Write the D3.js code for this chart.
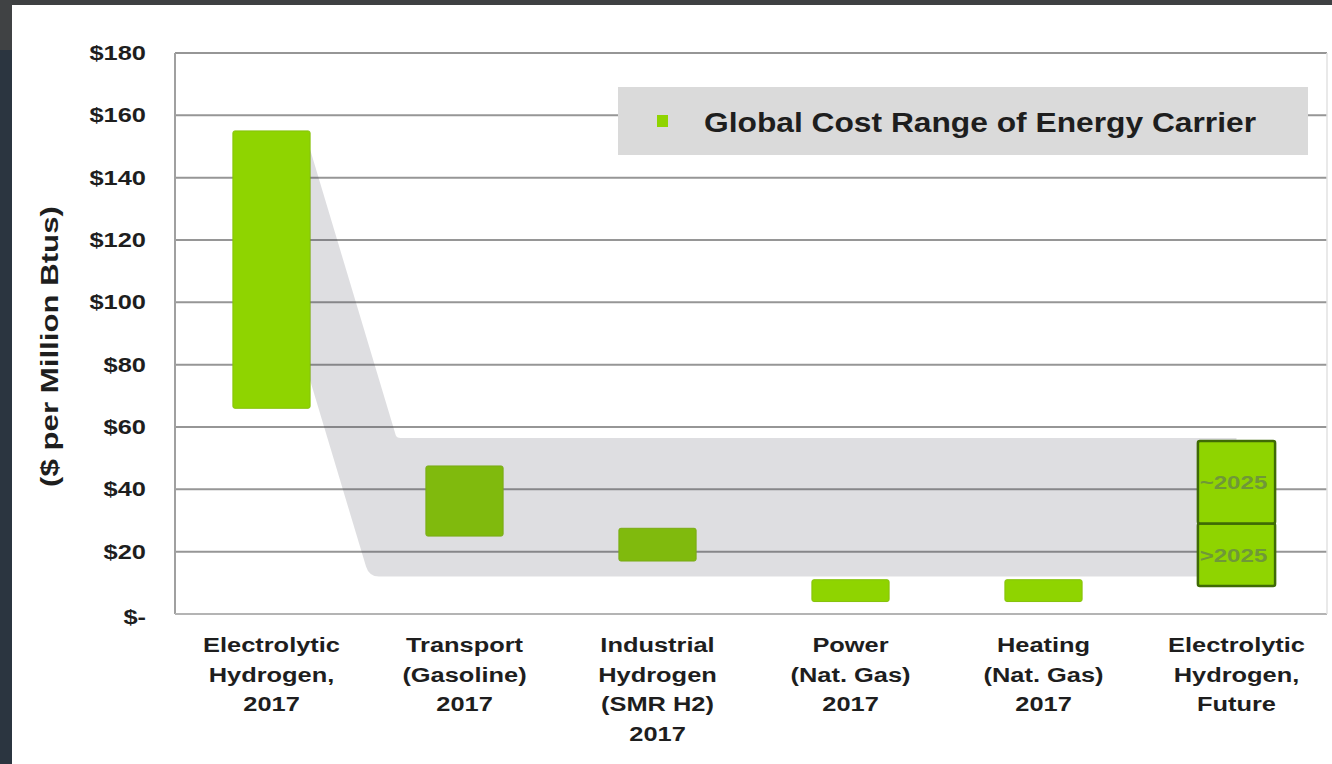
<!DOCTYPE html>
<html>
<head>
<meta charset="utf-8">
<script src="https://cdn.jsdelivr.net/npm/d3@7"></script>
<style>
  html, body { margin: 0; padding: 0; background: #ffffff; }
  svg { display: block; }
  text { font-family: "Liberation Sans", Arial, sans-serif; font-weight: bold; fill: #1e1e1e; }
</style>
</head>
<body>
<svg id="chart" width="1332" height="764"></svg>
<script>
// ---------------- data ----------------
const categories = ["eh2017", "transport", "industrial", "power", "heating", "ehFuture"];
const categoryLabels = [
  ["Electrolytic", "Hydrogen,", "2017"],
  ["Transport", "(Gasoline)", "2017"],
  ["Industrial", "Hydrogen", "(SMR H2)", "2017"],
  ["Power", "(Nat. Gas)", "2017"],
  ["Heating", "(Nat. Gas)", "2017"],
  ["Electrolytic", "Hydrogen,", "Future"]
];
const lowValues  = [66, 25, 17, 4, 4, 9];
const highValues = [155, 47.5, 27.5, 11, 11, 55.5];
// future bar split (>2025 below, ~2025 above)
const futureSplit = 29;
const futureSegmentLabels = [">2025", "~2025"];
// highlighted gray band: [start top, start bottom] at first bar, [top, bottom] of the flat part
const bandStart = [149, 75];
const bandFlat  = [56.5, 12];
const yTicks = [0, 20, 40, 60, 80, 100, 120, 140, 160, 180];
const yTickLabels = ["$-", "$20", "$40", "$60", "$80", "$100", "$120", "$140", "$160", "$180"];
const yTitle = "($ per Million Btus)";
const legendLabel = "Global Cost Range of Energy Carrier";

// ---------------- drawing ----------------
const svg = d3.select("#chart");
const SX = 1.27; // horizontal stretch of the text in the picture

// screenshot frame
svg.append("rect").attr("x", 0).attr("y", 0).attr("width", 1332).attr("height", 5).attr("fill", "#3e4042");
svg.append("rect").attr("x", 0).attr("y", 0).attr("width", 12).attr("height", 50).attr("fill", "#404244");
svg.append("rect").attr("x", 0).attr("y", 50).attr("width", 12).attr("height", 714).attr("fill", "#2b3540");

const plotL = 175, plotR = 1327, plotT = 53, plotB = 614;

const x = d3.scaleBand().domain(categories).range([plotL, 1333]).paddingInner(0.6).paddingOuter(0.3);
const y = d3.scaleLinear().domain([0, 180]).range([plotB, plotT]);

// gridlines
svg.append("g").selectAll("line").data(yTicks.filter(d => d > 0)).join("line")
  .attr("x1", plotL).attr("x2", plotR)
  .attr("y1", d => y(d)).attr("y2", d => y(d))
  .attr("stroke", "#969696").attr("stroke-width", 2);

// frame (left and bottom)
svg.append("line").attr("x1", plotL).attr("x2", plotL).attr("y1", plotT).attr("y2", plotB)
  .attr("stroke", "#a0a0a0").attr("stroke-width", 2);
svg.append("line").attr("x1", plotL).attr("x2", plotR).attr("y1", plotB).attr("y2", plotB)
  .attr("stroke", "#b4b4b4").attr("stroke-width", 2);
svg.append("line").attr("x1", plotR).attr("x2", plotR).attr("y1", plotT).attr("y2", plotB)
  .attr("stroke", "#e2e2e2").attr("stroke-width", 1.5);

// y tick labels
svg.append("g").selectAll("text").data(yTicks).join("text")
  .attr("transform", d => `translate(146, ${y(d) + (d === 0 ? 10 : 7)}) scale(${SX},1)`)
  .attr("text-anchor", "end")
  .attr("font-size", "20px")
  .text((d, i) => yTickLabels[i]);

// y title
svg.append("text")
  .attr("transform", `translate(58, ${(plotT + plotB) / 2 + 13}) rotate(-90) scale(1.3,1)`)
  .attr("text-anchor", "middle")
  .attr("font-size", "24px")
  .text(yTitle);

// bars (all but future)
const green = "#8fd400";
const bars = categories.slice(0, 5).map((c, i) => ({ c, lo: lowValues[i], hi: highValues[i] }));
svg.append("g").selectAll("rect").data(bars).join("rect")
  .attr("x", d => x(d.c))
  .attr("width", x.bandwidth())
  .attr("y", d => y(d.hi))
  .attr("height", d => y(d.lo) - y(d.hi))
  .attr("rx", 2)
  .attr("fill", green)
  .attr("stroke", "#86c20a").attr("stroke-width", 1);

// translucent band
const x1r = x(categories[0]) + x.bandwidth();
const slope = 0.3;
const xFuture = x(categories[5]) + x.bandwidth() / 2;
const yStartTop = y(bandStart[0]), yStartBot = y(bandStart[1]);
const yFlatTop = y(bandFlat[0]), yFlatBot = y(bandFlat[1]);
const xTopCorner = x1r + slope * (yFlatTop - yStartTop);
const xBotCorner = x1r + slope * (yFlatBot - yStartBot);
const r = 10;
const bandPath = d3.path();
bandPath.moveTo(x1r, yStartTop);
bandPath.lineTo(xTopCorner - slope * 3, yFlatTop - 3);
bandPath.quadraticCurveTo(xTopCorner, yFlatTop, xTopCorner + 4, yFlatTop);
bandPath.lineTo(xFuture, yFlatTop);
bandPath.lineTo(xFuture, yFlatBot);
bandPath.lineTo(xBotCorner + r, yFlatBot);
bandPath.quadraticCurveTo(xBotCorner, yFlatBot, xBotCorner - slope * r, yFlatBot - r);
bandPath.lineTo(x1r, yStartBot);
bandPath.closePath();
svg.append("path").attr("d", bandPath.toString())
  .attr("fill", "rgb(60,60,80)").attr("fill-opacity", 0.17);

// future bar (two segments)
const fx = x(categories[5]), fw = x.bandwidth();
const futureSegs = [
  { lo: lowValues[5], hi: futureSplit, label: futureSegmentLabels[0] },
  { lo: futureSplit, hi: highValues[5], label: futureSegmentLabels[1] }
];
const fg = svg.append("g");
fg.selectAll("rect").data(futureSegs).join("rect")
  .attr("x", fx).attr("width", fw)
  .attr("y", d => y(d.hi)).attr("height", d => y(d.lo) - y(d.hi))
  .attr("rx", 2)
  .attr("fill", green)
  .attr("stroke", "#3f6a06").attr("stroke-width", 2.5);
fg.selectAll("text").data(futureSegs).join("text")
  .attr("transform", d => `translate(${fx + fw / 2 - 3}, ${(y(d.hi) + y(d.lo)) / 2 + 7}) scale(${SX},1)`)
  .attr("text-anchor", "middle")
  .attr("font-size", "19px")
  .attr("font-weight", "normal")
  .style("fill", "#6f9838")
  .text(d => d.label);

// x labels
const xl = svg.append("g");
categories.forEach((c, i) => {
  const cx = x(c) + x.bandwidth() / 2;
  categoryLabels[i].forEach((line, j) => {
    xl.append("text")
      .attr("transform", `translate(${cx}, ${652 + j * 29.5}) scale(${SX},1)`)
      .attr("text-anchor", "middle")
      .attr("font-size", "20px")
      .text(line);
  });
});

// legend
svg.append("rect").attr("x", 618).attr("y", 87).attr("width", 690).attr("height", 68).attr("fill", "#dadada");
svg.append("rect").attr("x", 657).attr("y", 115).attr("width", 11).attr("height", 12).attr("fill", green);
svg.append("text").attr("x", 704).attr("y", 132).attr("font-size", "27px")
  .attr("textLength", 552).attr("lengthAdjust", "spacingAndGlyphs")
  .text(legendLabel);
</script>
</body>
</html>
